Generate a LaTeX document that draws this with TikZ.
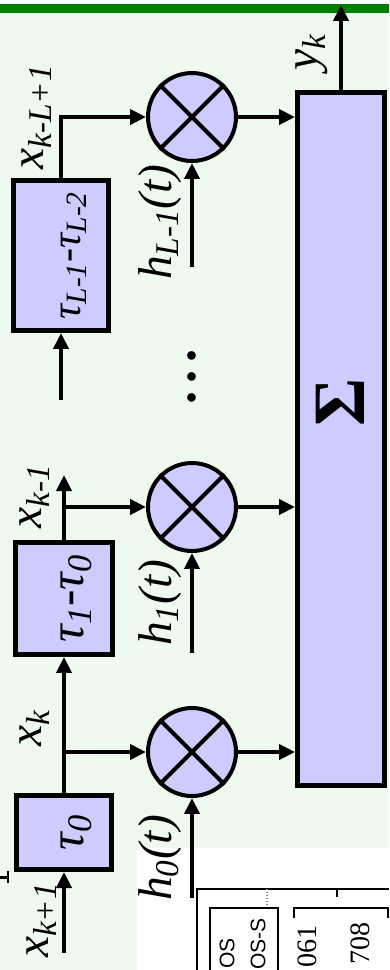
\documentclass[tikz,border=0pt]{standalone}
\usepackage{fontspec}
\setmainfont{Liberation Serif}
\setsansfont{Liberation Sans}
\usetikzlibrary{positioning, shapes, arrows.meta, calc}

\definecolor{boxfill}{RGB}{204,204,255}
\definecolor{bgfill}{RGB}{239,250,239}
\definecolor{barline}{RGB}{0,128,0}

\tikzset{
  delay/.style={draw, fill=boxfill, line width=0.1cm, rotate=90, inner sep=0pt,
    font=\fontsize{28}{32}\selectfont\itshape},
  mult/.style={circle, draw, fill=boxfill, line width=0.08cm, minimum size=1.76cm, inner sep=0pt},
  lbl/.style={rotate=90, inner sep=0pt, font=\fontsize{27}{31}\selectfont\itshape},
  flow/.style={line width=0.08cm, -{Triangle[length=0.32cm,width=0.3cm]}},
  thin line/.style={line width=0.025cm},
}
\newcommand{\lowtext}[1]{\raisebox{-11pt}[0pt][0pt]{#1}}

\begin{document}
\begin{tikzpicture}[x=0.02cm, y=-0.02cm]
  % Frame
  \useasboundingbox (0,0) rectangle (389,970);
  \fill[bgfill] (0,13) rectangle (389,970);
  \fill[white] (137,848) rectangle (389,970);
  \draw[barline, line width=0.18cm] (0,8.5) -- (389,8.5);

  % Table fragment
  \draw[thin line] (197,970) -- (197,889) -- (389,889);
  \draw[thin line, gray, densely dotted] (267,889) -- (267,905);
  \draw[thin line] (337,889) -- (337,897);
  \draw[thin line] (210,970) -- (210,908) -- (278,908) -- (278,970);
  \draw[thin line] (294,918) -- (294,908) -- (388,908) -- (388,918);
  \node[rotate=90, anchor=east, inner sep=0pt, font=\sffamily\fontsize{12}{14}\selectfont] (tos) at (227,938) {OS};
  \node[rotate=90, anchor=east, inner sep=0pt, font=\sffamily\fontsize{12}{14}\selectfont] (toss) at (258,918) {OS-S};
  \node[rotate=90, anchor=east, inner sep=0pt, font=\fontsize{16}{18}\selectfont] (tva) at (307,925) {061};
  \node[rotate=90, anchor=east, inner sep=0pt, font=\fontsize{16}{18}\selectfont] (tvb) at (360,922) {708};
  \draw[line width=0.06cm] (0,877) -- (8,877);
  \draw[line width=0.05cm] (8,871) -- (8,883);

  % Nodes
  \node[draw, fill=boxfill, line width=0.1cm, rotate=90, minimum width=13.86cm, minimum height=1.74cm] (sum) at (341,439) {};
  \node[rotate=90, inner sep=0pt, font=\fontsize{42}{46}\selectfont\bfseries] (sigma) at (340,402) {Σ};
  \foreach \i/\y in {0/752,1/507,2/117}
  \node[mult] (m\i) at (192,\y) {};
  \node[delay, minimum width=3.0cm, minimum height=1.9cm, font=\fontsize{24}{28}\selectfont\itshape] (d2) at (61,255.5)
    {\lowtext{τ\textsubscript{L-1}-τ\textsubscript{L-2}}};
  \node[delay, minimum width=2.24cm, minimum height=1.94cm] (d1) at (64,598.5)
    {\lowtext{τ\textsubscript{1}-τ\textsubscript{0}}};
  \node[delay, minimum width=1.48cm, minimum height=1.9cm] (d0) at (64,832.5)
    {\lowtext{τ\textsubscript{0}}};
  \node[rotate=90, inner sep=0pt, font=\fontsize{30}{34}\selectfont\bfseries] (dots) at (192,377)
    {.\hspace{0.15em}.\hspace{0.15em}.};

  % Labels
  \node[lbl] (lxL) at (37,117) {x\textsubscript{k-L+1}};
  \node[lbl] (lxk1) at (35,496) {x\textsubscript{k-1}};
  \node[lbl] (lxk) at (35,728) {x\textsubscript{k}};
  \node[lbl] (lxin) at (42,920) {x\textsubscript{k+1}};
  \node[lbl] (ly) at (312,52) {y\textsubscript{k}};
  \node[lbl] (lh2) at (160,222) {h\textsubscript{L-1}(t)};
  \node[lbl] (lh1) at (160,603) {h\textsubscript{1}(t)};
  \node[lbl] (lh0) at (160,858) {h\textsubscript{0}(t)};

  % Arrows
  \foreach \i in {0,1,2}
  \draw[line width=0.08cm] (m\i.north west) -- (m\i.south east) (m\i.north east) -- (m\i.south west);
  \foreach \i in {0,1,2}
  \draw[flow] (m\i) -- (m\i -| sum.north);
  \foreach \i/\y in {0/898,1/653,2/267}
  {\coordinate (h\i) at (192,\y);
   \draw[flow] (h\i) -- (m\i);}
  \coordinate (yout) at (341,5);
  \draw[flow] (sum.east) -- (yout);
  \coordinate (in0) at (64,953);
  \coordinate (in2) at (61,400);
  \coordinate (xk1) at (64,475);
  \draw[flow] (in0) -- (d0.west);
  \draw[flow] (d0.east) -- (d1.west);
  \draw[flow] (d0.east) |- (m0);
  \draw[flow] (d1.east) -- (xk1);
  \draw[flow] (d1.east) |- (m1);
  \draw[flow] (in2) -- (d2.west);
  \draw[flow] (d2.east) |- (m2);
\end{tikzpicture}
\end{document}
